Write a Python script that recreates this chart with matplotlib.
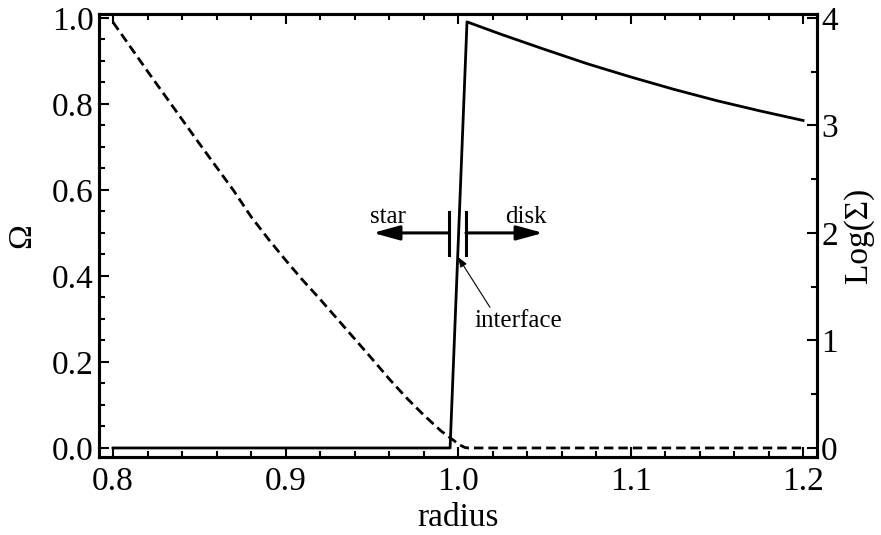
import matplotlib
matplotlib.use("Agg")
import matplotlib.pyplot as plt
from matplotlib.ticker import MultipleLocator

plt.rcParams['font.family'] = ['Liberation Serif', 'DejaVu Serif']

# Angular velocity profile (left axis)
radius_omega = [0.800, 0.810, 0.820, 0.830, 0.840, 0.850, 0.860, 0.870, 0.880,
                0.890, 0.900, 0.910, 0.920, 0.930, 0.940, 0.950, 0.960, 0.970,
                0.980, 0.990, 0.995, 0.998, 1.000, 1.002, 1.004, 1.006, 1.100, 1.200]
omega = [0.990, 0.933, 0.876, 0.820, 0.764, 0.708, 0.653, 0.598, 0.538,
         0.486, 0.437, 0.390, 0.346, 0.300, 0.254, 0.208, 0.161, 0.117,
         0.077, 0.040, 0.025, 0.016, 0.010, 0.005, 0.001, 0.000, 0.000, 0.000]

# Surface density profile, log scale (right axis)
radius_sigma = [0.800, 0.9954, 1.0052, 1.025, 1.050, 1.075, 1.100, 1.125, 1.150, 1.175, 1.200]
log_sigma = [0.0, 0.0, 3.963, 3.847, 3.708, 3.573, 3.451, 3.336, 3.230, 3.135, 3.046]

x_ticks = [0.8, 0.9, 1.0, 1.1, 1.2]
omega_ticks = [0.0, 0.2, 0.4, 0.6, 0.8, 1.0]
sigma_ticks = [0, 1, 2, 3, 4]

FS = 24
NOTE_FS = 18
fig = plt.figure(figsize=(8.81, 5.35), dpi=100)
ax = fig.add_axes([0.1124, 0.1458, 0.8150, 0.8280])
ax2 = ax.twinx()

ax.plot(radius_omega, omega, color='k', lw=2.0, dashes=(3.4, 1.8))
ax2.plot(radius_sigma, log_sigma, color='k', lw=2.0)

ax.set_xlim(0.7919, 1.2081)
ax.set_ylim(-0.021, 1.009)
ax2.set_ylim(-0.084, 4.036)

ax.set_xticks(x_ticks)
ax.set_xticklabels([f"{v:.1f}" for v in x_ticks])
ax.set_yticks(omega_ticks)
ax.set_yticklabels([f"{v:.1f}" for v in omega_ticks])
ax2.set_yticks(sigma_ticks)
ax2.set_yticklabels([str(v) for v in sigma_ticks])
ax.xaxis.set_minor_locator(MultipleLocator(0.02))
ax.yaxis.set_minor_locator(MultipleLocator(0.05))
ax2.yaxis.set_minor_locator(MultipleLocator(0.5))

for a in (ax, ax2):
    for s in a.spines.values():
        s.set_linewidth(2.2)
ax.tick_params(which='both', direction='in', top=True, right=False, width=1.5,
               labelsize=FS)
ax.tick_params(which='major', length=7)
ax.tick_params(which='minor', length=4)
ax.tick_params(axis='x', pad=7)
ax.tick_params(axis='y', pad=4)
ax2.tick_params(which='both', direction='in', width=1.5, labelsize=FS, pad=3)
ax2.tick_params(which='major', length=7)
ax2.tick_params(which='minor', length=4)

ax.set_xlabel('radius', fontsize=FS, labelpad=4)
ax.set_ylabel('Ω', fontsize=FS, labelpad=10)
ax2.set_ylabel('Log(Σ)', fontsize=FS, labelpad=4)

# Interface marker: two bars with arrows pointing to star and disk
y_arr = 0.500
ax.plot([0.9948, 0.9948], [0.449, 0.549], color='k', lw=2.2)
ax.plot([1.0046, 1.0046], [0.449, 0.549], color='k', lw=2.2)
head = dict(arrowstyle='-|>,head_length=0.8,head_width=0.22', color='k',
            lw=2.2, mutation_scale=20, shrinkA=0, shrinkB=0)
ax.annotate('', xy=(0.9507, y_arr), xytext=(0.9948, y_arr), arrowprops=head)
ax.annotate('', xy=(1.0493, y_arr), xytext=(1.0046, y_arr), arrowprops=head)
ax.text(0.9594, 0.523, 'star', fontsize=NOTE_FS, ha='center', va='baseline')
ax.text(1.0394, 0.523, 'disk', fontsize=NOTE_FS, ha='center', va='baseline')
ax.annotate('interface', xy=(1.0000, 0.444), xytext=(1.0348, 0.281),
            fontsize=NOTE_FS, ha='center', va='baseline',
            arrowprops=dict(arrowstyle='-|>,head_length=0.5,head_width=0.18',
                            color='k', lw=0.8, mutation_scale=12,
                            shrinkA=0, shrinkB=0,
                            relpos=(0.2, 1.0)))

fig.savefig('out.png', dpi=100)
